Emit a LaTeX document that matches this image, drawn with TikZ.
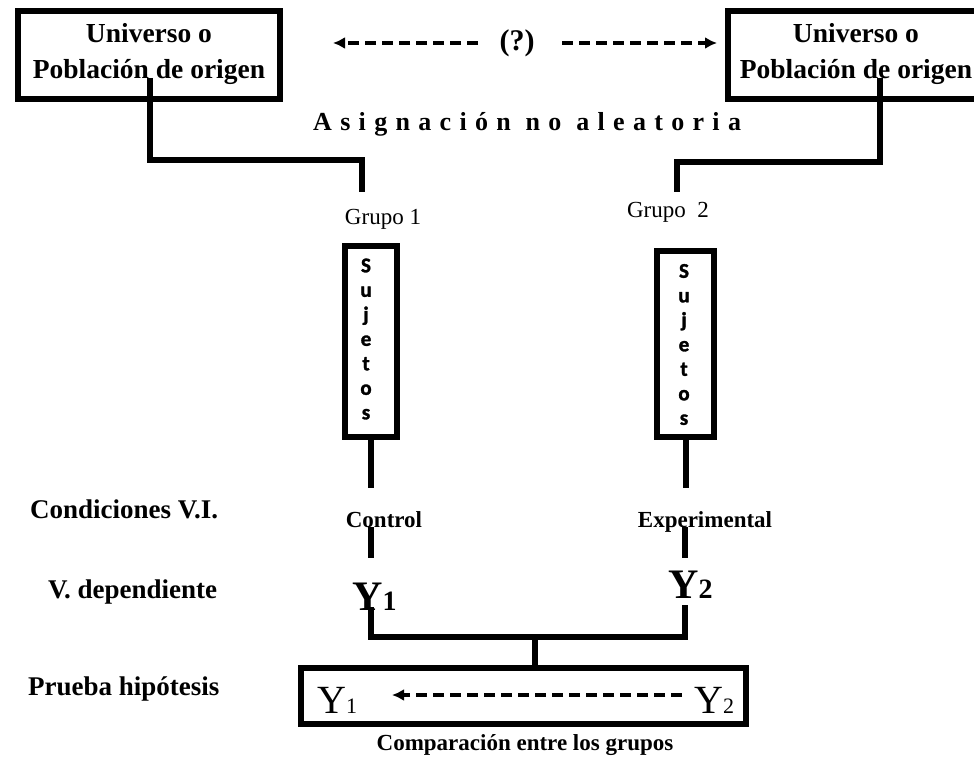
\documentclass[tikz,border=0pt]{standalone}
\usepackage{fontspec}
\setmainfont{Liberation Serif}
\newfontfamily\sujfont[FakeBold=1.5]{Carlito}
\newfontfamily\asigfont[LetterSpace=32]{Liberation Serif}
\usetikzlibrary{arrows.meta}
\begin{document}
\begin{tikzpicture}[x=1pt,y=-1pt,
  conn/.style={line width=6pt},
  boxst/.style={draw, line width=6pt, inner sep=0pt},
  dasharr/.style={line width=3.5pt, dash pattern=on 11pt off 6pt, -{Latex[length=12pt,width=12pt]}},
  lbl/.style={font=\bfseries\fontsize{27}{30}\selectfont, anchor=base west, inner sep=0pt},
  unitext/.style={font=\bfseries\fontsize{27.5}{36}\selectfont, align=center, inner sep=0pt},
  sujtext/.style={font=\sujfont\bfseries\fontsize{21}{24.5}\selectfont, align=center, inner sep=0pt},
  midtext/.style={font=\bfseries\fontsize{23}{26}\selectfont, anchor=base, inner sep=0pt},
  grptext/.style={font=\fontsize{23}{26}\selectfont, anchor=base, inner sep=0pt}
]
\useasboundingbox (0,0) rectangle (974,757);
\fill[white] (0,0) rectangle (974,757);

% universe boxes
\node[boxst, minimum width=262pt, minimum height=88pt] (u1) at (149,55) {};
\node[unitext] (u1t) at (149,54) {Universo o\\Población de origen};
\node[boxst, minimum width=262pt, minimum height=88pt] (u2) at (859,55) {};
\node[unitext] (u2t) at (856,54) {Universo o\\Población de origen};

% (?) and arrows
\node[font=\bfseries\fontsize{30}{36}\selectfont, inner sep=0pt] (q) at (517,43) {(?)};
\coordinate (qal) at (478,43);
\coordinate (al) at (333,43);
\coordinate (qar) at (562,43);
\coordinate (ar) at (717,43);
\draw[dasharr] (qal) -- (al);
\draw[dasharr] (qar) -- (ar);

\node[font=\asigfont\bfseries\fontsize{26}{30}\selectfont, anchor=base west, inner sep=0pt] (asig) at (313,131) {Asignación no aleatoria};

% connectors to groups
\coordinate (c1) at (150,78);
\coordinate (g1in) at (362,192);
\draw[conn] (c1) -- ++(0,82) -| (g1in);
\coordinate (c2) at (880,78);
\coordinate (g2in) at (677,192);
\draw[conn] (c2) -- ++(0,84) -| (g2in);

\node[grptext] (g1) at (383,224) {Grupo 1};
\node[grptext] (g2) at (668,217) {Grupo\ \ 2};

% sujetos boxes
\node[boxst, minimum width=52pt, minimum height=191pt] (s1) at (371,341.5) {};
\node[sujtext] (s1t) at (366,339) {S\\u\\j\\e\\t\\o\\s};
\node[boxst, minimum width=57pt, minimum height=186pt] (s2) at (685.5,344) {};
\node[sujtext] (s2t) at (684,344.5) {S\\u\\j\\e\\t\\o\\s};

% left labels
\node[lbl] (cond) at (30,518) {Condiciones V.I.};
\node[lbl] (vdep) at (48,598) {V. dependiente};
\node[lbl] (prue) at (28,695) {Prueba hipótesis};

% conditions
\coordinate (ct1) at (371,488);
\coordinate (ct2) at (685.5,488);
\draw[conn] (s1.south) -- (ct1);
\draw[conn] (s2.south) -- (ct2);
\node[midtext] (ctl) at (384,527) {Control};
\node[midtext] (exp) at (705,527) {Experimental};
\coordinate (ct1b) at (371,527);
\coordinate (y1t) at (371,558);
\coordinate (ct2b) at (685,527);
\coordinate (y2t) at (685,558);
\draw[conn] (ct1b) -- (y1t);
\draw[conn] (ct2b) -- (y2t);

% dependent variable
\node[anchor=base west, inner sep=0pt, font=\bfseries] (y1) at (352,610) {{\fontsize{42}{42}\selectfont Y}{\fontsize{28}{28}\selectfont 1}};
\node[anchor=base west, inner sep=0pt, font=\bfseries] (y2) at (668,598) {{\fontsize{42}{42}\selectfont Y}{\fontsize{28}{28}\selectfont 2}};
\coordinate (y1b) at (371,607);
\coordinate (y2b) at (685,605);
\coordinate (jn) at (535,637);
\draw[conn] (y1b) |- (jn) -| (y2b);

% comparison box
\node[boxst, minimum width=445pt, minimum height=56pt] (cmp) at (523.5,696) {};
\draw[conn] (jn) -- (jn |- cmp.north);
\node[anchor=base west, inner sep=0pt] (y1c) at (317,713) {{\fontsize{40}{40}\selectfont Y}{\fontsize{22}{22}\selectfont 1}};
\node[anchor=base west, inner sep=0pt] (y2c) at (694,713) {{\fontsize{40}{40}\selectfont Y}{\fontsize{22}{22}\selectfont 2}};
\coordinate (b2) at (682,695);
\coordinate (b1) at (392,695);
\draw[dasharr] (b2) -- (b1);
\node[midtext] (cmpl) at (525,750) {Comparación entre los grupos};
\end{tikzpicture}
\end{document}
